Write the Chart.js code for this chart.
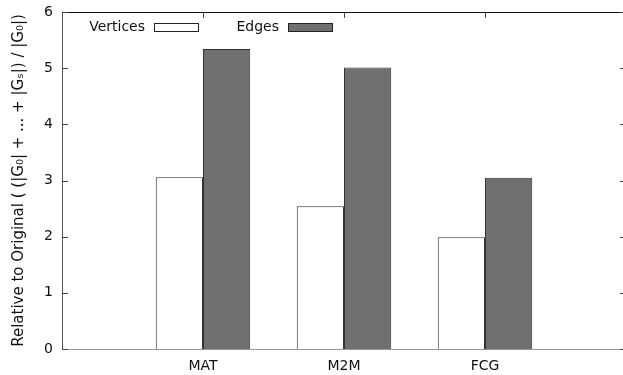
<!DOCTYPE html>
<html>
<head>
<meta charset="utf-8">
<script src="https://cdn.jsdelivr.net/npm/chart.js@4/dist/chart.umd.min.js"></script>
<style>
html,body{margin:0;padding:0;background:#fff;overflow:hidden;width:623px;height:375px;}
#wrap{width:628px;height:375px;position:relative;}
canvas{display:block;}
</style>
</head>
<body>
<div id="wrap"><canvas id="c" width="628" height="375"></canvas></div>
<script>
const categories = ['', 'MAT', 'M2M', 'FCG', ''];
const vertices = [null, 3.06, 2.54, 1.99, null];
const edges = [null, 5.34, 5.01, 3.05, null];
const yTicks = [0, 1, 2, 3, 4, 5, 6];
const yTitle = 'Relative to Original ( (|G\u2080| + ... + |G\u209B|) / |G\u2080|)';
const FONT = 'DejaVu Sans';

const frame = {
  id: 'frame',
  afterDraw(chart) {
    const ctx = chart.ctx, a = chart.chartArea;
    const xs = chart.scales.x, ys = chart.scales.y;
    ctx.save();
    ctx.lineWidth = 1;
    // top border
    ctx.strokeStyle = '#111';
    ctx.beginPath(); ctx.moveTo(a.left, a.top + 0.5); ctx.lineTo(a.right, a.top + 0.5); ctx.stroke();
    // y ticks inward on left and mirrored on right
    ctx.strokeStyle = '#444';
    yTicks.forEach(v => {
      const y = Math.round(ys.getPixelForValue(v)) + 0.5;
      ctx.beginPath(); ctx.moveTo(a.left, y); ctx.lineTo(a.left + 6, y); ctx.stroke();
      ctx.beginPath(); ctx.moveTo(a.right - 6, y); ctx.lineTo(a.right, y); ctx.stroke();
    });
    // top mirrored x ticks
    categories.forEach((c, i) => {
      if (!c) return;
      const x = Math.round(xs.getPixelForValue(i)) + 0.5;
      ctx.beginPath(); ctx.moveTo(x, a.top); ctx.lineTo(x, a.top + 6); ctx.stroke();
    });
    // legend (gnuplot style: text then sample)
    ctx.font = '14px ' + FONT;
    ctx.fillStyle = '#111';
    ctx.textAlign = 'right';
    ctx.textBaseline = 'middle';
    const entries = chart.data.datasets;
    const textRight = [a.left + 83, a.left + 217];
    entries.forEach((ds, i) => {
      const tx = textRight[i];
      ctx.fillText(ds.label, tx, a.top + 15);
      const bx = tx + 9, by = a.top + 11, bw = 44, bh = 8;
      ctx.fillStyle = ds.backgroundColor;
      ctx.fillRect(bx, by, bw, bh);
      ctx.strokeStyle = '#222';
      ctx.strokeRect(bx + 0.5, by + 0.5, bw, bh);
      ctx.fillStyle = '#111';
    });
    ctx.restore();
  }
};

new Chart(document.getElementById('c'), {
  type: 'bar',
  data: {
    labels: categories,
    datasets: [
      { label: 'Vertices', data: vertices, backgroundColor: '#ffffff', borderColor: '#333333', borderWidth: 1,
        categoryPercentage: 0.67, barPercentage: 1.0 },
      { label: 'Edges', data: edges, backgroundColor: '#707070', borderColor: '#333333', borderWidth: 1,
        categoryPercentage: 0.67, barPercentage: 1.0 }
    ]
  },
  options: {
    responsive: false,
    animation: false,
    layout: { padding: { top: 12, right: 2, left: 0, bottom: 0 } },
    plugins: { legend: { display: false }, tooltip: { enabled: false } },
    scales: {
      x: {
        offset: false,
        grid: { display: false },
        border: { display: true, color: '#999' },
        ticks: { autoSkip: false, maxRotation: 0, color: '#111', font: { family: FONT, size: 14 }, padding: 1 },
        afterFit(s) { s.height = 26; }
      },
      y: {
        min: 0, max: 6,
        grid: { display: false },
        border: { display: true, color: '#555' },
        ticks: { stepSize: 1, color: '#111', font: { family: FONT, size: 14 }, padding: 1 },
        title: { display: true, text: yTitle, color: '#111', font: { family: FONT, size: 15 }, padding: { top: 10, bottom: 0 } },
        afterFit(s) { s.width = 62; }
      }
    }
  },
  plugins: [frame]
});
</script>
</body>
</html>
